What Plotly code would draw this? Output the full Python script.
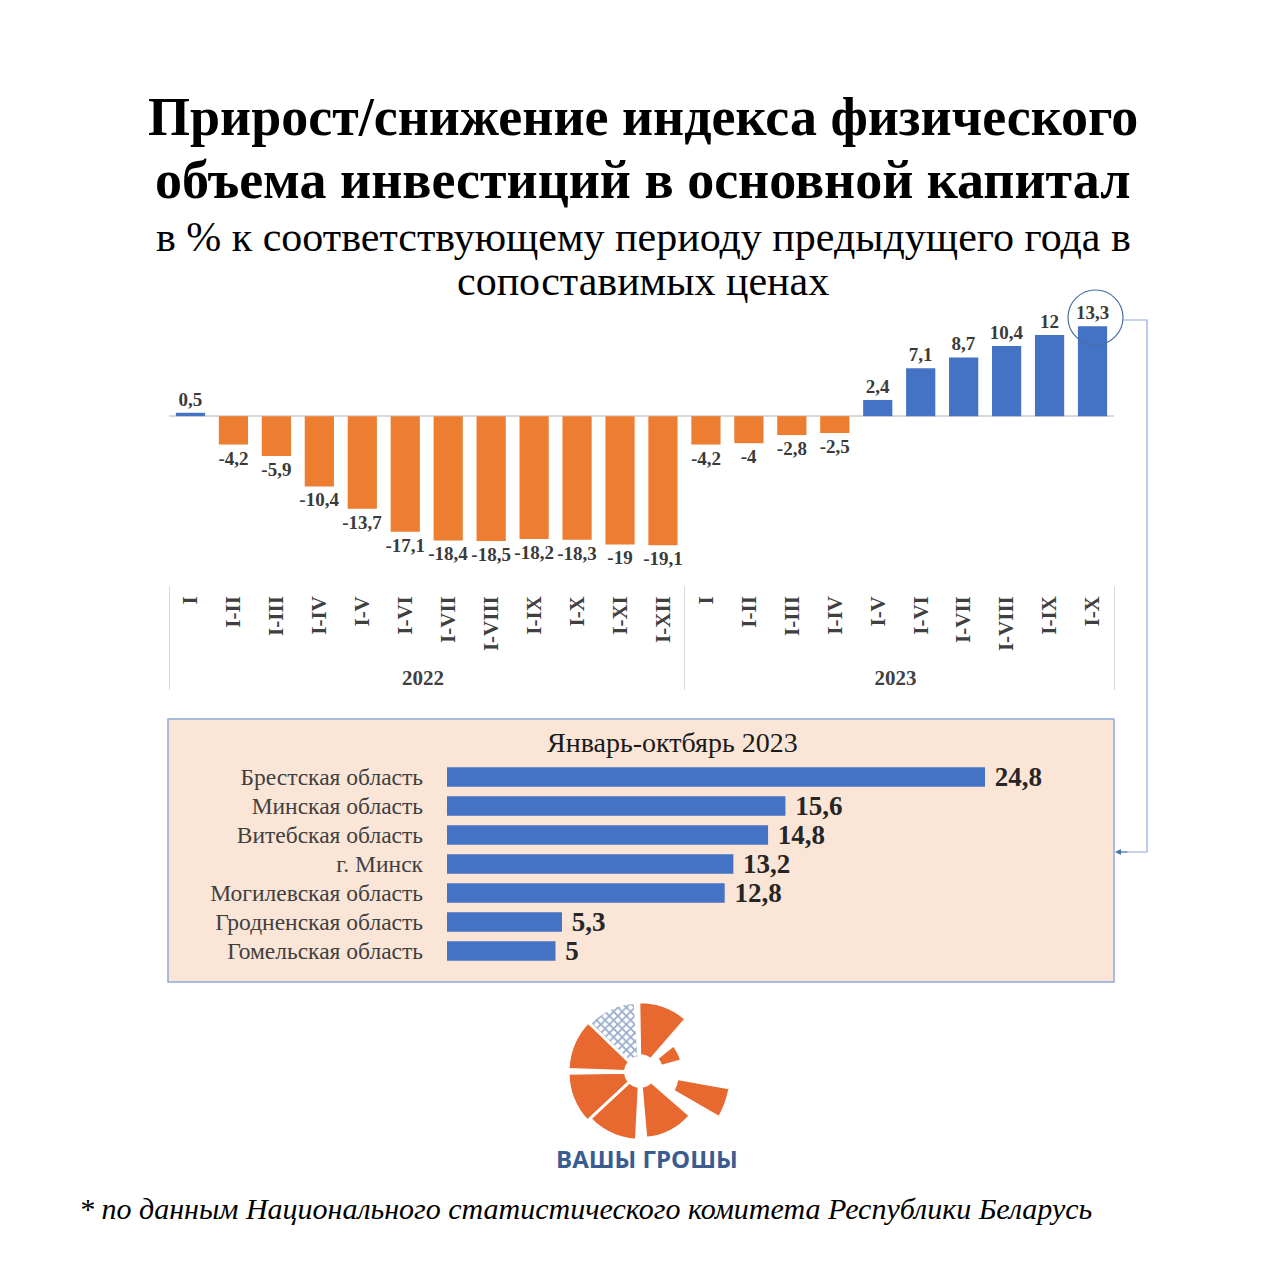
import plotly.graph_objs as go

W, H = 1280, 1279

# top chart data
years = ['2022'] * 12 + ['2023'] * 10
periods = ['I', 'I-II', 'I-III', 'I-IV', 'I-V', 'I-VI', 'I-VII', 'I-VIII', 'I-IX', 'I-X', 'I-XI', 'I-XII',
           'I', 'I-II', 'I-III', 'I-IV', 'I-V', 'I-VI', 'I-VII', 'I-VIII', 'I-IX', 'I-X']
growth = [0.5, -4.2, -5.9, -10.4, -13.7, -17.1, -18.4, -18.5, -18.2, -18.3, -19.0, -19.1,
          -4.2, -4.0, -2.8, -2.5, 2.4, 7.1, 8.7, 10.4, 12.0, 13.3]

# bottom chart data
regions = ['Брестская область', 'Минская область', 'Витебская область', 'г. Минск',
           'Могилевская область', 'Гродненская область', 'Гомельская область']
region_growth = [24.8, 15.6, 14.8, 13.2, 12.8, 5.3, 5.0]

BLUE = '#4472C4'
ORANGE = '#ED7D31'
SERIF = 'Liberation Serif, Times New Roman, serif'
OFF = 8  # page body margin


def fmt(v):
    return f'{v:g}'.replace('.', ',')


def px_x(p):
    return (p - OFF) / W


def px_y(p):
    return 1 - (p - OFF) / H


fig = go.Figure()

fig.add_trace(go.Bar(
    x=[years, periods], y=growth,
    marker=dict(color=[BLUE if v > 0 else ORANGE for v in growth], line=dict(width=0)),
    text=[fmt(v) for v in growth], textposition='outside', constraintext='none', cliponaxis=False,
    textfont=dict(family=SERIF, size=19, color='#3a3a3a', weight='bold'),
    xaxis='x', yaxis='y', showlegend=False, hoverinfo='skip'))

fig.add_trace(go.Bar(
    y=regions, x=region_growth, orientation='h',
    marker=dict(color=BLUE, line=dict(width=0)),
    text=['\u00a0' + fmt(v) for v in region_growth], textposition='outside', constraintext='none',
    cliponaxis=False,
    textfont=dict(family=SERIF, size=27, color='#262626', weight='bold'),
    xaxis='x2', yaxis='y2', showlegend=False, hoverinfo='skip'))

# logo (decorative wedges)
logo_theta = [70, 27, -20, -63, -118, -158, 157]
logo_width = [42, 24, 20, 44, 50, 42, 42]
logo_base = [0.18, 0.24, 0.42, 0.16, 0.16, 0.16, 0.16]
logo_r = [0.6, 0.24, 0.6, 0.58, 0.6, 0.64, 0.64]
fig.add_trace(go.Barpolar(
    theta=logo_theta, width=logo_width, base=logo_base, r=logo_r,
    marker=dict(color='#E8692F', line=dict(color='white', width=3)),
    showlegend=False, hoverinfo='skip'))
fig.add_trace(go.Barpolar(
    theta=[115], width=[42], base=[0.16], r=[0.62],
    marker=dict(color='white', line=dict(color='white', width=3),
                pattern=dict(shape='x', fgcolor='#2F5597', bgcolor='white', size=6, solidity=0.5)),
    showlegend=False, hoverinfo='skip'))

fig.update_layout(
    width=W, height=H, margin=dict(l=0, r=0, t=0, b=0),
    paper_bgcolor='white', plot_bgcolor='rgba(0,0,0,0)',
    bargap=0.32,
    xaxis=dict(domain=[px_x(169), px_x(1114)], type='multicategory', tickangle=-90,
               tickfont=dict(family=SERIF, size=21, color='#404040', weight='bold'),
               ticklabelstandoff=6,
               showdividers=True, dividercolor='#d9d9d9', dividerwidth=1,
               showgrid=False, showline=False, ticks=''),
    yaxis=dict(domain=[px_y(585), px_y(300)], range=[-25, 17.2], showgrid=False,
               showticklabels=False, zeroline=True, zerolinecolor='#d9d9d9', zerolinewidth=1.5),
    xaxis2=dict(domain=[px_x(447), px_x(1100)], range=[0, 30.1], visible=False, anchor='y2'),
    yaxis2=dict(domain=[px_y(965.5), px_y(762.5)], autorange='reversed', anchor='x2',
                showgrid=False, showline=False, ticks='', ticklabelstandoff=23,
                tickfont=dict(family=SERIF, size=23.5, color='#404040')),
    polar=dict(domain=dict(x=[px_x(550), px_x(730)], y=[px_y(1162), px_y(982)]),
               bgcolor='rgba(0,0,0,0)', hole=0,
               radialaxis=dict(visible=False, range=[0, 1]),
               angularaxis=dict(visible=False)),
)

# peach box behind the regional chart, highlight circle and connector
fig.add_shape(type='rect', xref='paper', yref='paper', layer='below',
              x0=px_x(168), x1=px_x(1114), y0=px_y(982), y1=px_y(719),
              fillcolor='#FBE5D6', line=dict(color='#8FAADC', width=1.5))
fig.add_shape(type='circle', xref='paper', yref='paper',
              x0=px_x(1068), x1=px_x(1123), y0=px_y(345), y1=px_y(290),
              line=dict(color='#4A6FA5', width=1.2))
fig.add_shape(type='path', xref='paper', yref='paper',
              path=f'M {px_x(1123)},{px_y(320)} L {px_x(1147)},{px_y(320)} '
                   f'L {px_x(1147)},{px_y(852)} L {px_x(1118)},{px_y(852)}',
              line=dict(color='#8FAADC', width=1.2))
fig.add_annotation(xref='paper', yref='paper', x=px_x(1115), y=px_y(852),
                   ax=14, ay=0, showarrow=True, arrowhead=2, arrowsize=1, arrowwidth=1.2,
                   arrowcolor='#4A6FA5', text='')

# titles
title_lines = [
    ('Прирост/снижение индекса физического', 117, 54, 'bold'),
    ('объема инвестиций в основной капитал', 180, 54, 'bold'),
    ('в % к соответствующему периоду предыдущего года в', 237, 42, 'normal'),
    ('сопоставимых ценах', 281, 42, 'normal'),
]
for txt, yy, sz, wt in title_lines:
    fig.add_annotation(xref='paper', yref='paper', x=px_x(643), y=px_y(yy), text=txt, showarrow=False,
                       xanchor='center', yanchor='middle',
                       font=dict(family=SERIF, size=sz, color='black', weight=wt))

fig.add_annotation(xref='paper', yref='paper', x=px_x(672), y=px_y(742), text='Январь-октбярь 2023',
                   showarrow=False, xanchor='center', yanchor='middle',
                   font=dict(family=SERIF, size=28, color='#1a1a1a'))

fig.add_annotation(xref='paper', yref='paper', x=px_x(647), y=px_y(1158), text='ВАШЫ ГРОШЫ',
                   showarrow=False, xanchor='center', yanchor='middle',
                   font=dict(family='Open Sans, Arial, sans-serif', size=24, color='#3B5C8F', weight='bold'))

fig.add_annotation(xref='paper', yref='paper', x=px_x(585), y=px_y(1208),
                   text='* по данным Национального статистического комитета Республики Беларусь',
                   showarrow=False, xanchor='center', yanchor='middle',
                   font=dict(family=SERIF, size=30, color='black', style='italic'))

fig.write_html('out.html')
